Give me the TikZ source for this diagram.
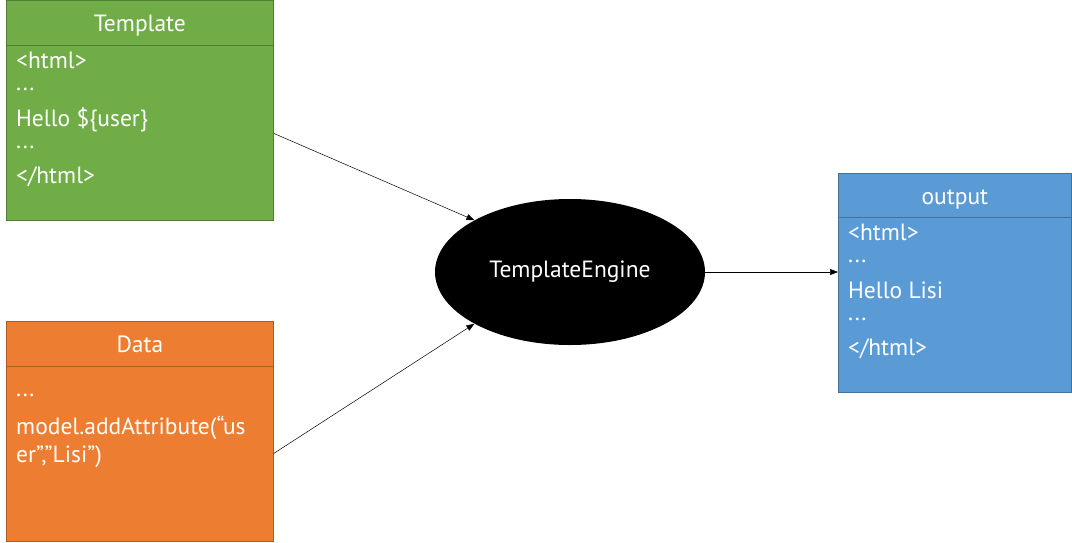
\documentclass[tikz,border=0pt]{standalone}
\usepackage{fontspec}
\setmainfont{PT Sans}
\usepackage{tikz}
\usetikzlibrary{arrows.meta,shapes.geometric}
\definecolor{tplfill}{HTML}{70AD47}
\definecolor{tplline}{HTML}{507E32}
\definecolor{datfill}{HTML}{ED7D31}
\definecolor{datline}{HTML}{AE5A21}
\definecolor{outfill}{HTML}{5B9BD5}
\definecolor{outline}{HTML}{41719C}

\begin{document}
\begin{tikzpicture}[x=1pt,y=-1pt,
  font=\fontsize{23.5}{28}\selectfont,
  box/.style={draw, line width=0.8pt, anchor=north west, inner sep=0pt},
  head/.style={anchor=base, text=white, inner sep=0pt},
  txt/.style={anchor=base west, text=white, inner sep=0pt},
  arr/.style={-{Triangle[length=8pt,width=6pt]}, line width=0.5pt}]
\useasboundingbox (0,0) rectangle (1072,542);
% ----- template
\node[box, fill=tplfill, draw=tplline, minimum width=267, minimum height=220] (tpl) at (6,0) {};
\node[head] (tplhead) at ([yshift=-31pt]tpl.north) {Template};
\draw[tplline, line width=0.8pt] ([yshift=-45pt]tpl.north west) -- ([yshift=-45pt]tpl.north east);
\foreach \y/\t [count=\i] in {68/{<html>}, 90/{...}, 126/{Hello \$\{user\}}, 148/{...}, 183/{</html>}}
  \node[txt] (tpl\i) at ([xshift=10pt,yshift=-\y pt]tpl.north west) {\t};
% ----- data
\node[box, fill=datfill, draw=datline, minimum width=267, minimum height=220] (dat) at (6,321) {};
\node[head] (dathead) at ([yshift=-31pt]dat.north) {Data};
\draw[datline, line width=0.8pt] ([yshift=-45pt]dat.north west) -- ([yshift=-45pt]dat.north east);
\foreach \y/\t [count=\i] in {75/{...}, 113/{model.addAttribute(“us}, 141/{er”,”Lisi”)}}
  \node[txt] (dat\i) at ([xshift=10pt,yshift=-\y pt]dat.north west) {\t};
% ----- engine
\node[ellipse, fill=black, text=white, minimum width=270, minimum height=146] (eng) at (570,272) {TemplateEngine};
% ----- output
\node[box, fill=outfill, draw=outline, minimum width=233, minimum height=219] (out) at (838,173) {};
\node[head] (outhead) at ([yshift=-31pt]out.north) {output};
\draw[outline, line width=0.8pt] ([yshift=-44pt]out.north west) -- ([yshift=-44pt]out.north east);
\foreach \y/\t [count=\i] in {67/{<html>}, 89/{...}, 125/{Hello Lisi}, 147/{...}, 182/{</html>}}
  \node[txt] (out\i) at ([xshift=10pt,yshift=-\y pt]out.north west) {\t};
% ----- connectors
\draw[arr] ([yshift=-23pt]tpl.east) -- (eng.north west);
\draw[arr] ([yshift=-22pt]dat.east) -- (eng.south west);
\draw[arr] (eng.east) -- (eng.east -| out.west);
\end{tikzpicture}
\end{document}
